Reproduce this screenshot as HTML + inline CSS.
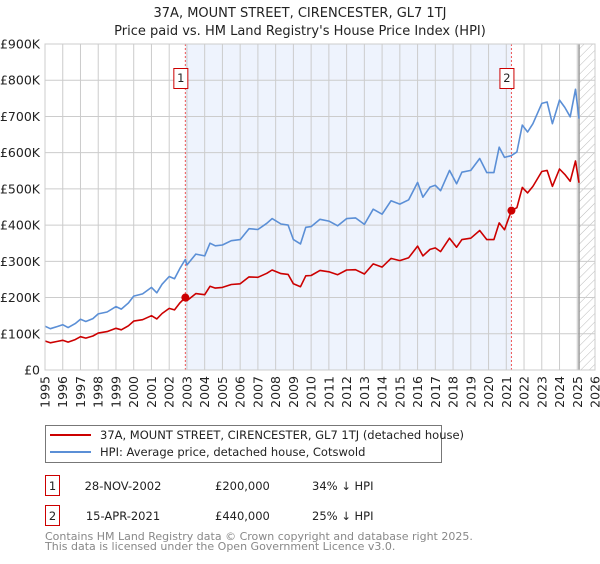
<!DOCTYPE html>
<html><head><meta charset="utf-8"><style>
body{margin:0;background:#fff;font-family:"DejaVu Sans","Liberation Sans",sans-serif;}
svg text{font-family:"DejaVu Sans","Liberation Sans",sans-serif;}
</style></head><body>
<svg id="chart" width="600" height="560" xmlns="http://www.w3.org/2000/svg">
<defs><pattern id="hatch" width="6" height="6" patternUnits="userSpaceOnUse" patternTransform="rotate(45)"><line x1="0" y1="0" x2="0" y2="6" stroke="#bbb" stroke-width="1"/></pattern></defs>
<text x="300" y="17" text-anchor="middle" font-size="13" fill="#222">37A, MOUNT STREET, CIRENCESTER, GL7 1TJ</text>
<text x="300" y="35" text-anchor="middle" font-size="13" fill="#222">Price paid vs. HM Land Registry's House Price Index (HPI)</text>
<g id="plot"></g>
<g>
<rect x="45.5" y="425.5" width="396" height="37" fill="#fff" stroke="#777"/>
<line x1="50" y1="435" x2="91" y2="435" stroke="#cc0000" stroke-width="2"/>
<text x="100" y="439" font-size="11.5" fill="#222">37A, MOUNT STREET, CIRENCESTER, GL7 1TJ (detached house)</text>
<line x1="50" y1="452" x2="91" y2="452" stroke="#5b8fd6" stroke-width="2"/>
<text x="100" y="456" font-size="11.5" fill="#222">HPI: Average price, detached house, Cotswold</text>
</g>
<g font-size="11.5" fill="#222">
<rect x="45.5" y="475.5" width="14" height="20" fill="#fff" stroke="#cc0000"/>
<text x="52.5" y="490" text-anchor="middle">1</text>
<text x="123" y="490" text-anchor="middle">28-NOV-2002</text>
<text x="215" y="490">£200,000</text>
<text x="312" y="490">34% ↓ HPI</text>
<rect x="45.5" y="505.5" width="14" height="20" fill="#fff" stroke="#cc0000"/>
<text x="52.5" y="520" text-anchor="middle">2</text>
<text x="123" y="520" text-anchor="middle">15-APR-2021</text>
<text x="215" y="520">£440,000</text>
<text x="312" y="520">25% ↓ HPI</text>
</g>
<text x="45" y="540" font-size="11" fill="#888">Contains HM Land Registry data © Crown copyright and database right 2025.</text>
<text x="45" y="550" font-size="11" fill="#888">This data is licensed under the Open Government Licence v3.0.</text>
</svg>
<script>
const dates=[1995.0,1995.3,1995.7,1996.0,1996.3,1996.7,1997.0,1997.3,1997.7,1998.0,1998.5,1999.0,1999.3,1999.7,2000.0,2000.5,2001.0,2001.3,2001.6,2002.0,2002.3,2002.6,2002.91,2003.0,2003.5,2004.0,2004.3,2004.6,2005.0,2005.5,2006.0,2006.5,2007.0,2007.5,2007.8,2008.3,2008.7,2009.0,2009.4,2009.7,2010.0,2010.5,2011.0,2011.5,2012.0,2012.5,2013.0,2013.5,2014.0,2014.5,2015.0,2015.5,2016.0,2016.3,2016.7,2017.0,2017.3,2017.8,2018.2,2018.5,2019.0,2019.5,2019.9,2020.3,2020.6,2020.9,2021.29,2021.6,2021.9,2022.2,2022.5,2023.0,2023.3,2023.6,2024.0,2024.3,2024.6,2024.9,2025.1];
const hpiValues=[121,114,120,125,117,128,140,134,142,155,160,175,168,185,204,210,228,213,237,258,252,280,305,290,320,315,350,343,345,357,360,390,388,405,418,403,400,360,348,394,396,416,411,398,418,420,402,444,430,467,458,470,518,477,505,510,495,551,514,546,551,584,545,545,615,587,592,602,676,657,680,736,740,680,745,725,699,775,694];
const priceValues=[80,75,79,82,77,84,92,88,94,102,106,115,111,122,135,139,150,141,156,170,166,185,200,191,211,208,231,226,228,236,238,257,256,267,276,266,264,238,230,260,261,275,271,263,276,277,265,293,284,308,302,310,342,315,333,337,327,364,339,360,364,385,360,360,406,387,440,448,504,489,507,548,551,507,555,540,521,577,517];
const yTicks=[0,100,200,300,400,500,600,700,800,900];
const yTickLabels=["£0","£100K","£200K","£300K","£400K","£500K","£600K","£700K","£800K","£900K"];
const xYears=[1995,1996,1997,1998,1999,2000,2001,2002,2003,2004,2005,2006,2007,2008,2009,2010,2011,2012,2013,2014,2015,2016,2017,2018,2019,2020,2021,2022,2023,2024,2025,2026];
const saleDates=[2002.91,2021.29];
const salePrices=[200,440];
const saleLabels=["1","2"];
const dataEnd=2025.1;

const X0=45,X1=595,Y0=370,Y1=44;
const xs=t=>X0+(t-1995)/(2026-1995)*(X1-X0);
const ys=v=>Y0-v/900*(Y0-Y1);
const NS="http://www.w3.org/2000/svg";
const plot=document.getElementById('plot');
function mk(tag,attrs,parent){const e=document.createElementNS(NS,tag);for(const k in attrs)e.setAttribute(k,attrs[k]);(parent||plot).appendChild(e);return e;}

const shade=mk('rect',{x:xs(saleDates[0]),y:Y1,width:xs(saleDates[1])-xs(saleDates[0]),height:Y0-Y1,fill:'#eef3fd'});


const hatch=mk('rect',{x:xs(dataEnd),y:Y1,width:X1-xs(dataEnd),height:Y0-Y1,fill:'url(#hatch)'});



yTicks.forEach((v,i)=>{
  const g=mk('line',{x1:X0,x2:X1,y1:ys(v),y2:ys(v),stroke:'#ccc','stroke-width':1});
  
  
  const t=mk('text',{x:40,y:ys(v)+4.5,'text-anchor':'end','font-size':12.5,fill:'#222'});
  t.textContent=yTickLabels[i];
  
  
});
xYears.forEach(yr=>{
  const g=mk('line',{x1:xs(yr),x2:xs(yr),y1:Y1,y2:Y0,stroke:'#ccc','stroke-width':1});
  
  
  const t=mk('text',{transform:`translate(${xs(yr)+4.5},376) rotate(-90)`,'text-anchor':'end','font-size':12.5,fill:'#222'});
  t.textContent=String(yr);
  
  
});
const el=mk('line',{x1:xs(dataEnd),x2:xs(dataEnd),y1:Y1,y2:Y0,stroke:'#999','stroke-width':1.5});



saleDates.forEach((d,i)=>{
  const l=mk('line',{x1:xs(d),x2:xs(d),y1:Y1,y2:Y0,stroke:'#ee5555','stroke-width':1,'stroke-dasharray':'2,2'});
  
  
  const b=mk('rect',{x:xs(d)-11.5,y:68.5,width:14,height:20,fill:'#fff',stroke:'#cc0000'});
  
  
  const t=mk('text',{x:xs(d)-4.5,y:82,'text-anchor':'middle','font-size':11.5,fill:'#222'});
  t.textContent=saleLabels[i];
  
  
});
function pathFor(vals){return dates.map((d,i)=>(i?'L':'M')+xs(d).toFixed(1)+','+ys(vals[i]).toFixed(1)).join('');}
const hp=mk('path',{d:pathFor(hpiValues),fill:'none',stroke:'#5b8fd6','stroke-width':1.6,'stroke-linejoin':'round'});


const pp=mk('path',{d:pathFor(priceValues),fill:'none',stroke:'#cc0000','stroke-width':1.6,'stroke-linejoin':'round'});


saleDates.forEach((d,i)=>{
  const c=mk('circle',{cx:xs(d),cy:ys(salePrices[i]),r:4,fill:'#cc0000'});
  
  
});
const fr=mk('rect',{x:X0,y:Y1,width:X1-X0,height:Y0-Y1,fill:'none',stroke:'#ccc'});


</script>
</body></html>
